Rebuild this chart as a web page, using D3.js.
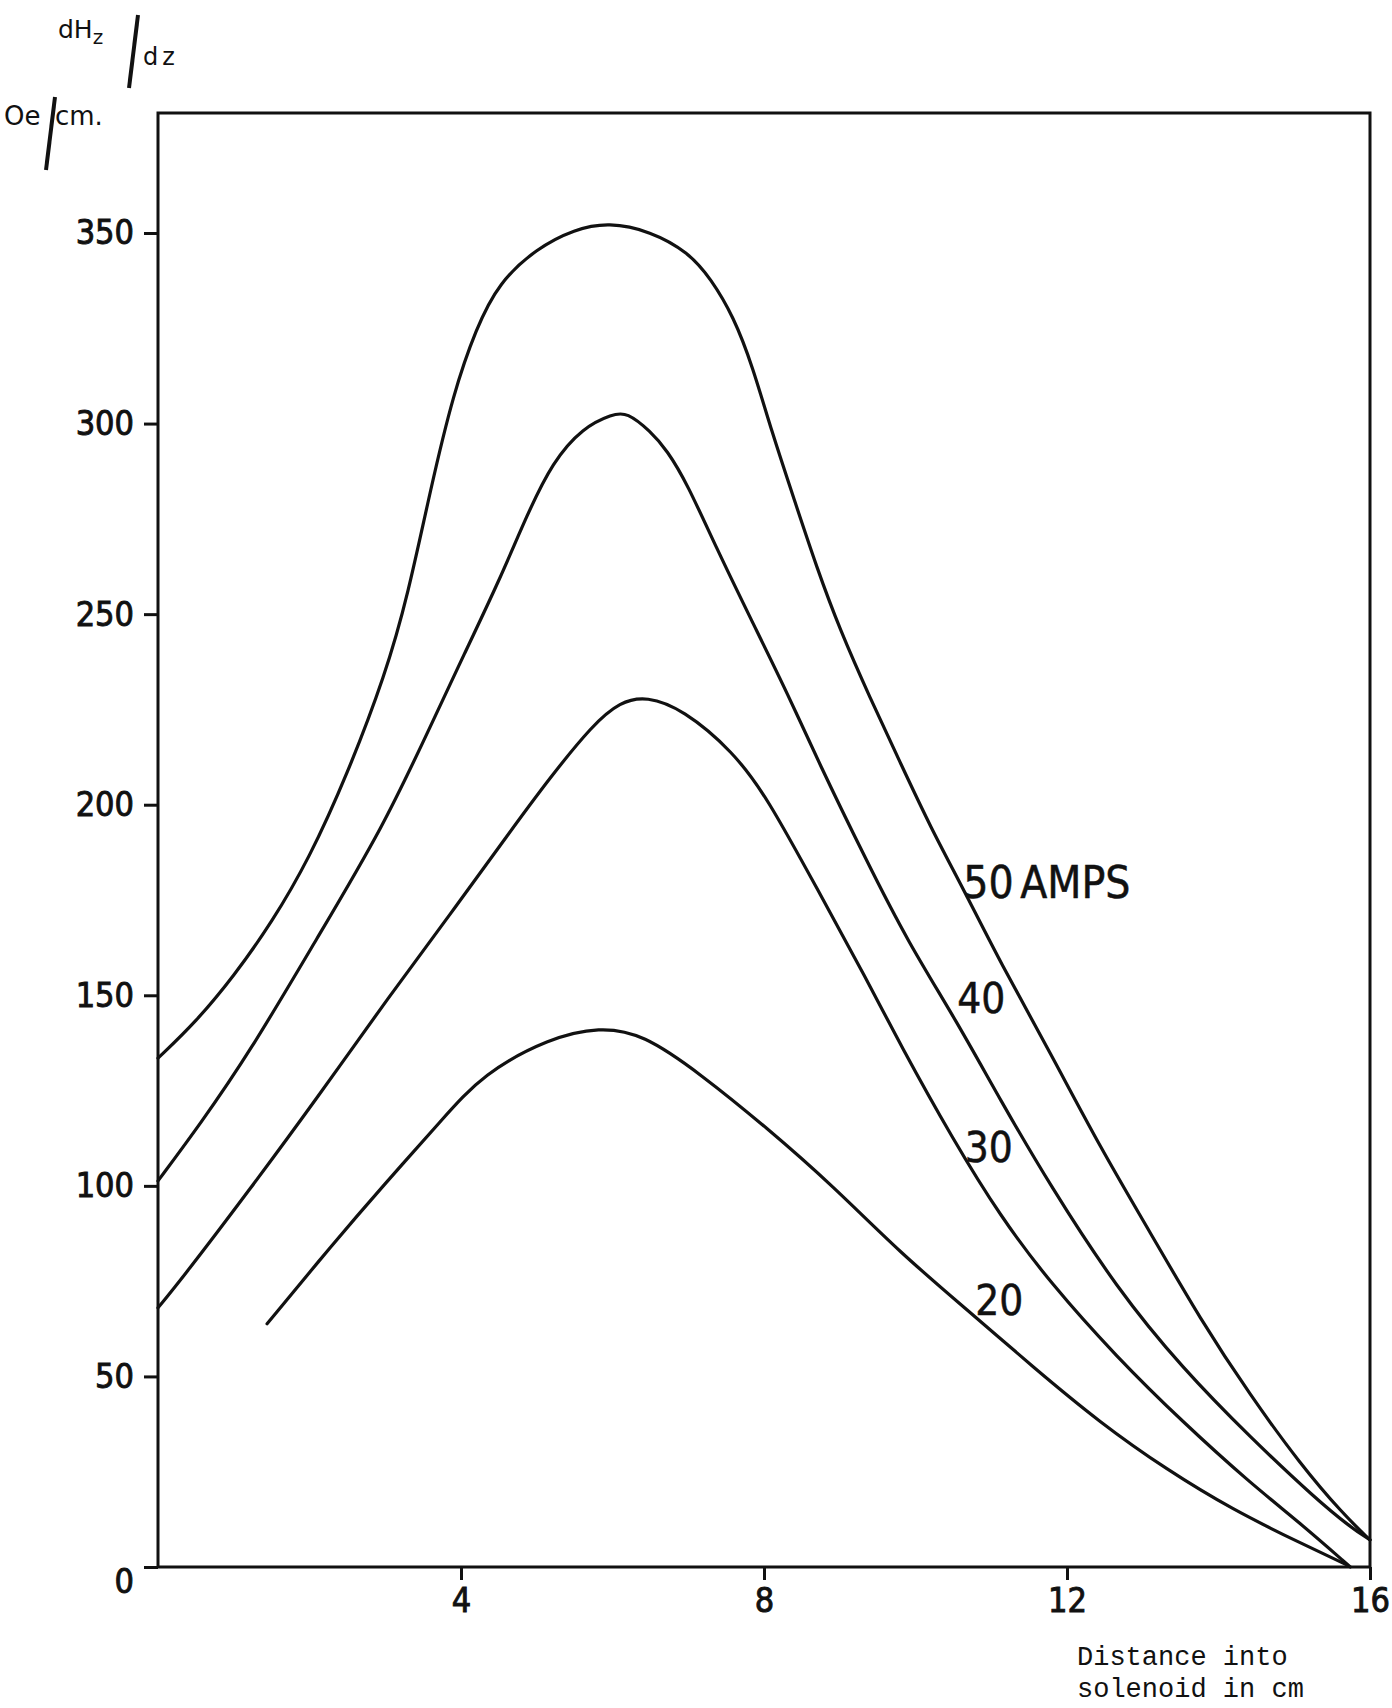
<!DOCTYPE html>
<html>
<head>
<meta charset="UTF-8">
<title>dHz/dz - distance into solenoid</title>
<script src="https://cdn.jsdelivr.net/npm/d3@7"></script>
<style>
  body { margin: 0; background: #fff; }
  svg text { fill: #111; }
  .tick text { font-family: 'Liberation Sans Narrow', 'DejaVu Sans Condensed', Roboto, sans-serif; font-size: 34px; fill: #111; stroke: #111; stroke-width: 0.9px; }
  .tick line { stroke: #111; stroke-width: 3; }
  .curve { fill: none; stroke: #111; stroke-width: 3.2; stroke-linejoin: round; stroke-linecap: round; }
  .lbl { font-family: 'Liberation Sans Narrow', 'DejaVu Sans Condensed', Roboto, sans-serif; stroke: #111; stroke-width: 0.5px; }
  .mono { font-family: 'Liberation Mono', 'DejaVu Sans Mono', monospace; font-size: 27px; }
</style>
</head>
<body>
<svg id="chart" width="1392" height="1708"></svg>
<script>
// ticks
const xTicks = [4, 8, 12, 16];
const yTicks = [0, 50, 100, 150, 200, 250, 300, 350];

// [distance cm, dHz/dz Oe/cm]
const amps50 = [[0,133.5],[0.5,143],[1.0,155],[1.5,169],[2.0,186],[2.5,208],[3.0,234],[3.3,255],
  [3.6,283],[3.9,308],[4.2,325],[4.5,337],[5.0,346],[5.5,351],[5.95,352.8],[6.5,350.5],[7.0,345],
  [7.3,338],[7.6,328],[7.85,315],[8.1,298],[8.4,280],[8.7,262],[9.0,246],[9.4,228],[9.8,211],
  [10.2,194],[10.63,178],[11.12,158.6],[11.78,134.9],[12.44,110],[13.1,87.7],[13.76,65],[14.42,45],
  [15.08,27],[15.64,14],[16,7.1]];
const amps40 = [[0,101.3],[0.55,116],[1.21,135],[2.1,165],[2.97,194],[3.63,222],[4.03,239],[4.51,259],
  [4.87,276],[5.21,290],[5.61,299],[6.0,302.5],[6.19,303],[6.5,298],[6.72,293],[6.98,284.5],[7.38,267],
  [7.82,249],[8.34,228],[8.7,212],[9.36,185],[9.9,164],[10.55,143],[11.12,122.5],[11.78,100],[12.66,73],
  [13.53,52],[14.42,34],[15.3,17.6],[15.74,10.5],[16,7.1]];
const amps30 = [[0,68],[0.33,76],[1.21,99],[2.1,123],[3.06,150],[3.85,171],[4.65,193],[5.17,207],
  [5.74,221],[6.1,227],[6.45,228.5],[6.93,225],[7.59,214],[8.04,202],[8.7,178],[9.36,154],[9.8,137],
  [10.5,112],[11.12,92],[11.78,74.5],[12.66,55],[13.53,38],[14.42,22],[15.08,11.5],[15.74,0]];
const amps20 = [[1.44,63.8],[2.31,84.8],[2.97,100],[3.76,117.6],[4.29,129.4],[5.17,138.8],[5.83,141.7],
  [6.4,139.9],[7.16,129.4],[8.04,115.2],[8.91,100],[9.8,82.4],[10.68,67.5],[11.55,52.5],[12.44,37.8],
  [13.32,25.5],[14.19,15],[15.08,6.3],[15.7,0.5]];
const seriesNames = ["50 AMPS", "40", "30", "20"];

const svg = d3.select("#chart");
const mLeft = 158, mRight = 1370, mTop = 113, mBottom = 1567;

const x = d3.scaleLinear().domain([0, 16]).range([mLeft, mRight]);
const y = d3.scaleLinear().domain([0, 350]).range([mBottom, 233]);

// frame
svg.append("path")
  .attr("d", `M${mLeft},${mBottom}V${mTop}H${mRight}V${mBottom}H${mLeft}`)
  .attr("fill", "none").attr("stroke", "#111").attr("stroke-width", 3);

// y axis
const ya = svg.append("g").attr("transform", `translate(${mLeft},0)`)
  .call(d3.axisLeft(y).tickValues(yTicks).tickSize(14).tickPadding(10));
ya.select(".domain").remove();
ya.selectAll(".tick text").filter(d => d === 0).attr("dy", "0.75em");

// x axis
const xa = svg.append("g").attr("transform", `translate(0,${mBottom})`)
  .call(d3.axisBottom(x).tickValues(xTicks).tickSize(13).tickPadding(8));
xa.select(".domain").remove();

// curves
const line = d3.line().x(d => x(d[0])).y(d => y(d[1])).curve(d3.curveBasis);
[amps50, amps40, amps30, amps20].forEach(s => {
  svg.append("path").attr("class", "curve").attr("d", line(s));
});

// curve labels
const lblPos = [[10.63, 175.6, 44], [10.55, 145.4, 42], [10.65, 106.3, 42], [10.79, 66.1, 42]];
seriesNames.forEach((n, i) => {
  svg.append("text").attr("class", "lbl")
    .attr("x", x(lblPos[i][0])).attr("y", y(lblPos[i][1]))
    .attr("font-size", lblPos[i][2])
    .style("word-spacing", "-6px")
    .text(n);
});

// y axis title
const t = svg.append("g").attr("font-family", "'DejaVu Sans', sans-serif");
const dh = t.append("text").attr("x", 58).attr("y", 38).attr("font-size", 25);
dh.append("tspan").text("dH");
dh.append("tspan").attr("font-size", 20).attr("dy", 6).text("z");
t.append("line").attr("x1", 138).attr("y1", 15).attr("x2", 129).attr("y2", 88)
  .attr("stroke", "#111").attr("stroke-width", 4);
t.append("text").attr("x", 143).attr("y", 65).attr("font-size", 24)
  .style("letter-spacing", "4px").text("dz");
t.append("text").attr("x", 4).attr("y", 125).attr("font-size", 26).text("Oe");
t.append("line").attr("x1", 55).attr("y1", 97).attr("x2", 46).attr("y2", 170)
  .attr("stroke", "#111").attr("stroke-width", 4);
t.append("text").attr("x", 55).attr("y", 125).attr("font-size", 26).text("cm.");

// x axis title
svg.append("text").attr("class", "mono").attr("x", 1077).attr("y", 1665).text("Distance into");
svg.append("text").attr("class", "mono").attr("x", 1077).attr("y", 1697).text("solenoid in cm");
</script>
</body>
</html>
